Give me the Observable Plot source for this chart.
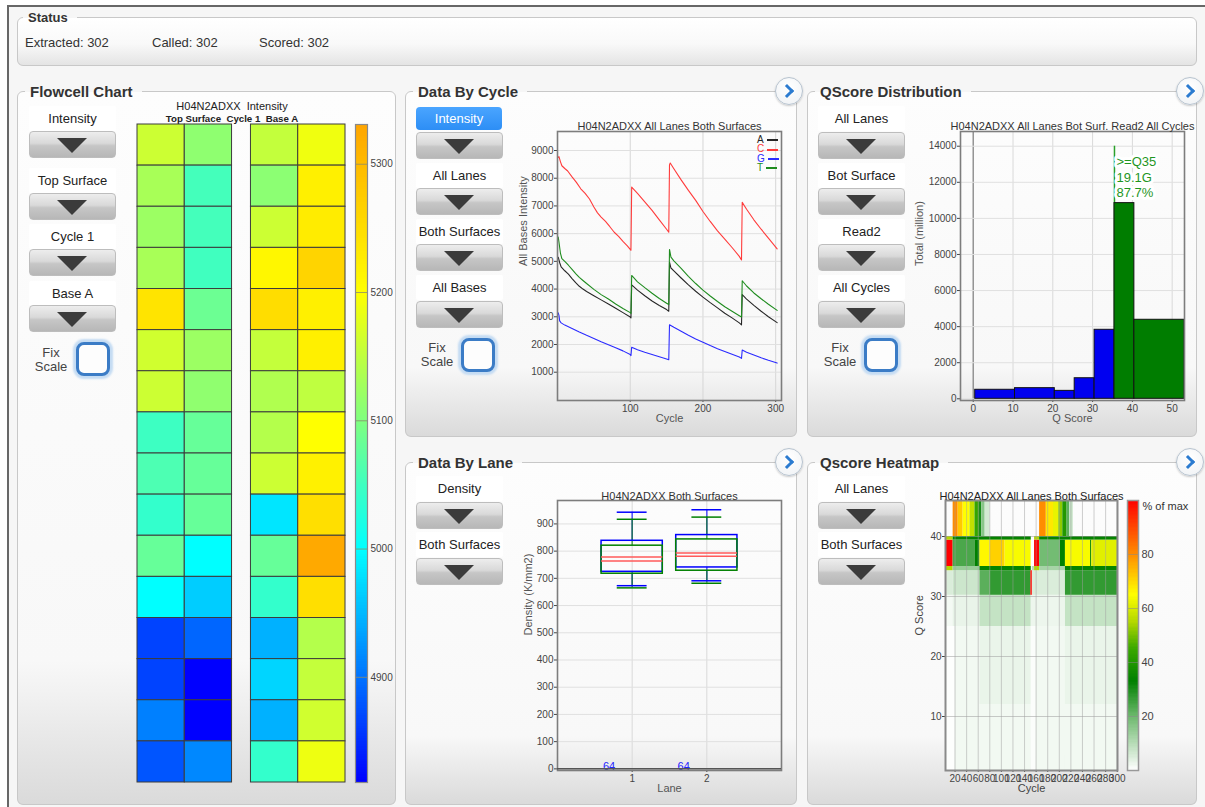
<!DOCTYPE html>
<html><head><meta charset="utf-8">
<script src="https://cdn.jsdelivr.net/npm/d3@7"></script>
<script src="https://cdn.jsdelivr.net/npm/@observablehq/plot@0.6"></script>
<style>
html,body{margin:0;padding:0;background:#fff;}
body{width:1205px;height:807px;overflow:hidden;position:relative;font-family:'Liberation Sans',Arial,Helvetica,sans-serif;color:#333;}
#frame{position:absolute;left:7px;top:5px;width:1220px;height:830px;border-left:2px solid #676767;border-top:2px solid #676767;background:#f6f6f6;}
fieldset.panel{position:absolute;margin:0;padding:0;border:1px solid #c8c8c8;border-radius:6px;box-sizing:border-box;
 background:linear-gradient(to bottom,#fdfdfd 0%,#f8f8f8 80%,#dadada 100%);}
fieldset.panel legend{margin-left:7px;padding:0 9px 0 5px;font-weight:bold;font-size:15px;line-height:17px;color:#333;}
fieldset.status{background:linear-gradient(to bottom,#ffffff 0%,#f9f9f9 55%,#e4e4e4 100%);}
fieldset.status legend{margin-left:5px;padding:0 9px 0 5px;font-size:13px;line-height:15px;}
.stxt{position:absolute;font-size:13px;line-height:16px;color:#333;white-space:nowrap;}
.dd{position:absolute;width:87px;height:27px;border-radius:4px;box-sizing:border-box;border:1px solid #bdbdbd;
 background:linear-gradient(to bottom,#ededed 0%,#d9d9d9 45%,#c6c6c6 55%,#b7b7b7 100%);}
.dd::after{content:"";position:absolute;left:27px;top:6px;border-left:15px solid transparent;border-right:15px solid transparent;border-top:15px solid #3b3b3b;}
.lbl{position:absolute;width:87px;height:25px;background:#fff;text-align:center;font-size:13px;line-height:25px;color:#222;white-space:nowrap;border-radius:2px;}
.sel{position:absolute;width:86px;height:23px;border-radius:4px;background:linear-gradient(to bottom,#4aa5ff,#2d8ef5);color:#fff;text-align:center;font-size:13px;line-height:23px;}
.fix{position:absolute;width:40px;text-align:center;font-size:13px;line-height:14px;color:#444;}
.chk{position:absolute;width:34px;height:34px;box-sizing:border-box;border:3px solid #3b7cc6;border-radius:8px;background:#fdfdfd;box-shadow:0 0 2px 3px #c5dcf3;}
.circ{position:absolute;width:28px;height:28px;box-sizing:border-box;border-radius:50%;border:1.5px solid #b7c3cf;background:radial-gradient(circle at 50% 35%,#ffffff,#eef1f4);box-shadow:0 1px 2px rgba(0,0,0,0.2);}
.circ::after{content:"";position:absolute;left:6px;top:8px;width:7px;height:7px;border-right:3px solid #2b7bd0;border-top:3px solid #2b7bd0;transform:rotate(45deg);}
.chart{position:absolute;}
.fctitle{position:absolute;width:220px;text-align:center;white-space:nowrap;color:#222;}
.leg{position:absolute;font-size:10px;line-height:10px;white-space:nowrap;}
.leg span.ln{display:inline-block;width:11px;height:2px;vertical-align:middle;margin-left:3px;}
</style>
</head>
<body>
<div id="frame"></div>
<script>
// ---------------- DATA ----------------
const statusItems = ["Extracted: 302", "Called: 302", "Scored: 302"];

// Flowcell chart: intensity per tile (16 tiles, top to bottom) for each lane/swath
const tileRows = [1,2,3,4,5,6,7,8,9,10,11,12,13,14,15,16];
const lane1Swath1 = [5160, 5132, 5122, 5132, 5240, 5163, 5160, 5048, 5060, 5040, 5080, 5000, 4866, 4866, 4909, 4879];
const lane1Swath2 = [5112, 5053, 5053, 5050, 5085, 5122, 5113, 5080, 5080, 5080, 5000, 4964, 4891, 4818, 4818, 4915];
const lane2Swath1 = [5153, 5110, 5160, 5212, 5250, 5154, 5138, 5141, 5160, 4982, 5080, 5040, 4944, 4970, 4944, 5040];
const lane2Swath2 = [5188, 5222, 5228, 5262, 5222, 5222, 5150, 5200, 5220, 5247, 5325, 5247, 5141, 5154, 5163, 5187];
const flowcellTicks = [4900, 5000, 5100, 5200, 5300];
const flowcellStops = [4818, 5000, 5200, 5331];
const flowcellColors = ["#0000ff", "#00ffff", "#ffff00", "#ffa500"];

// Data by cycle: intensity per base, [cycle, intensity]
const bases = ["A", "C", "G", "T"];
const baseColors = ["#262626", "#ff3b3b", "#2b2bff", "#1f8c1f"];
const cycleTicks = [100, 200, 300];
const intensityTicks = [1000, 2000, 3000, 4000, 5000, 6000, 7000, 8000, 9000];
const intensityA = [[1,5150],[3,4950],[5,4800],[10,4660],[15,4540],[20,4380],[25,4230],[30,4100],[35,4000],[40,3910],[50,3760],[60,3610],[70,3460],[80,3310],[90,3150],[100,2990],[101,2960],[102,4150],[110,3960],[120,3760],[130,3570],[140,3410],[150,3260],[153,3200],[154,4970],[156,4760],[160,4660],[170,4400],[180,4150],[190,3920],[200,3710],[210,3510],[220,3320],[230,3130],[240,2960],[250,2780],[253,2710],[254,3800],[260,3640],[270,3410],[280,3200],[290,3000],[302,2790]];
const intensityC = [[1,8750],[2,8780],[4,8600],[6,8450],[10,8350],[14,8260],[20,8050],[26,7850],[32,7620],[38,7450],[44,7250],[50,6960],[55,6750],[60,6600],[66,6440],[72,6250],[78,6050],[84,5900],[90,5720],[96,5560],[100,5430],[101,5400],[102,7680],[110,7450],[120,7150],[130,6840],[140,6500],[150,6160],[153,6050],[154,8480],[155,8550],[160,8340],[170,7940],[180,7560],[190,7200],[200,6800],[210,6440],[220,6100],[230,5800],[240,5500],[250,5180],[253,5050],[254,7130],[260,6880],[270,6500],[280,6160],[290,5840],[302,5450]];
const intensityG = [[1,3140],[2,3050],[3,2850],[5,2780],[10,2700],[20,2580],[30,2450],[40,2330],[50,2220],[60,2100],[70,1990],[80,1880],[90,1770],[100,1640],[101,1600],[102,1900],[110,1810],[120,1720],[130,1640],[140,1560],[150,1480],[153,1450],[154,2710],[160,2620],[170,2480],[180,2330],[190,2200],[200,2080],[210,1960],[220,1850],[230,1750],[240,1650],[250,1550],[253,1500],[254,1800],[260,1720],[270,1620],[280,1520],[290,1430],[302,1330]];
const intensityT = [[1,5880],[2,5700],[4,5300],[6,5100],[10,5000],[15,4860],[20,4710],[25,4560],[30,4420],[35,4310],[40,4200],[50,3990],[60,3800],[70,3640],[80,3460],[90,3300],[100,3150],[101,3120],[102,4490],[110,4260],[120,4050],[130,3850],[140,3660],[150,3490],[153,3440],[154,5430],[156,5150],[160,5020],[170,4750],[180,4460],[190,4200],[200,3960],[210,3750],[220,3550],[230,3360],[240,3200],[250,3040],[253,2990],[254,4300],[260,4110],[270,3860],[280,3650],[290,3450],[302,3230]];

// QScore distribution
const qBinLow  = [0.5, 10.5, 20.5, 25.5, 30.5, 35.5, 40.5];
const qBinHigh = [10.5, 20.5, 25.5, 30.5, 35.5, 40.5, 53.1];
const qTotals  = [500, 590, 440, 1140, 3825, 10845, 4380];
const q35Edge = 35.5;
const qAnnotation = [">=Q35", "19.1G", "87.7%"];
const qTicks = [0, 10, 20, 30, 40, 50];
const totalTicks = [0, 2000, 4000, 6000, 8000, 10000, 12000, 14000];

// Data by lane (density box plots, two surfaces)
const laneIds = [1, 2];
const laneTicks = [1, 2];
const densityTicks = [0, 100, 200, 300, 400, 500, 600, 700, 800, 900];
const blueLow = [673, 691], blueQ1 = [724, 740], blueMedian = [778, 793], blueQ3 = [838, 859], blueHigh = [943, 952];
const greenLow = [665, 682], greenQ1 = [717, 728], greenMedian = [764, 781], greenQ3 = [820, 843], greenHigh = [917, 925];
const tileCounts = [64, 64];

// Qscore heatmap: [cycleStart, cycleEnd, qStart, qEnd, % of max]
const heatCells = [
 [3.5,20,1,25,0.3],[20,63,1,25,1.8],[63,151.6,1,12,1.8],[63,151.6,12,25,2.8],[151.6,160,1,25,0.6],[160,210.6,1,25,1.8],[210.6,300.5,1,12,1.8],[210.6,300.5,12,25,2.8],
 [3.5,16.7,25,30.2,1.5],[16.7,63,25,30.2,3],[63,151.6,25,30.2,8],[151.6,210.6,25,30.2,2.5],[210.6,300.5,25,30.2,8],
 [3.5,5.5,30.2,34.3,100],[5.5,16.7,30.2,34.3,5],[16.7,63,30.2,34.3,7],[63,80.4,30.2,34.3,22],[80.4,151,30.2,34.3,27],[151,153.5,30.2,34.3,100],[153.5,210.6,30.2,34.3,5],[210.6,300.5,30.2,34.3,27],
 [3.5,16.7,34.3,35,55],[16.7,63,34.3,35,14],[63,151.6,34.3,35,34],[153.5,157.3,34.3,35,10],[157.3,166,34.3,35,55],[166,210.6,34.3,35,12],[210.6,300.5,34.3,35,34],
 [3.5,16.7,35,39.4,100],[16.7,54.4,35,39.4,24],[54.4,63,35,39.4,33],[63,80.4,35,39.4,66],[80.4,106.4,35,39.4,71],[106.4,151.6,35,39.4,64],[151.6,157.3,35,40,0],[157.3,166,35,39.4,100],[166,201.9,35,39.4,19],[201.9,210.6,35,39.4,33],[210.6,254,35,39.4,64],[254,256,35,39.4,36],[256,300.5,35,39.4,61],
 [3.5,16.7,39.4,40,55],[16.7,151.6,39.4,40,34],[157.3,166,39.4,40,55],[166,300.5,39.4,40,34],
 [16.7,25.4,40,46,80],[25.4,34,40,46,72],[34,45.7,40,46,65],[45.7,54.4,40,46,57],[54.4,62,40,46,44],[62,66,40,46,30],[66,72,40,46,16],[72,80.4,40,46,6],
 [166,177.6,40,46,80],[177.6,190,40,46,68],[190,199,40,46,62],[199,206,40,46,52],[206,213.5,40,46,40],[213.5,218,40,46,22],[218,224,40,46,8]
];
const heatXTicks = [20,40,60,80,100,120,140,160,180,200,220,240,260,280,300];
const heatYTicks = [10, 20, 30, 40];
const heatPctTicks = [20, 40, 60, 80];
const heatStops = [0, 20, 33, 45, 55, 65, 80, 100];
const heatColors = ["#ffffff", "#6cb86c", "#008000", "#3aa800", "#b4d800", "#ffff00", "#ff8c00", "#ff0000"];

// ---------------- LAYOUT HELPERS ----------------
const FONT = "'Liberation Sans', Arial, Helvetica, sans-serif";
const body = document.body;
function el(tag, cls, x, y, html) {
  const e = document.createElement(tag);
  if (cls) e.className = cls;
  e.style.left = x + "px"; e.style.top = y + "px";
  if (html !== undefined) e.innerHTML = html;
  body.appendChild(e); return e;
}
function panel(x, yLine, w, yBottom, title, cls) {
  const f = document.createElement("fieldset");
  f.className = "panel" + (cls ? " " + cls : "");
  const lh = cls ? 15 : 17;
  f.style.left = x + "px"; f.style.top = (yLine - lh / 2) + "px";
  f.style.width = w + "px"; f.style.height = (yBottom - yLine + lh / 2) + "px";
  const lg = document.createElement("legend"); lg.textContent = title; f.appendChild(lg);
  body.appendChild(f);
}
function label(x, yc, text) { el("div", "lbl", x, yc - 12.5, text); }
function dropdown(x, y) { el("div", "dd", x, y); }
function fixScale(xc, yFix, xBox, yBox) {
  el("div", "fix", xc - 20, yFix - 7, "Fix");
  el("div", "fix", xc - 20, yFix + 7, "Scale");
  el("div", "chk", xBox, yBox);
}
function circle(cx, cy) { el("div", "circ", cx - 14, cy - 14); }
function style(fs) { return `background:transparent;overflow:visible;max-width:none;font-family:${FONT};font-size:${fs || 10}px;color:#444;`; }
function mount(svg, x, y) { const d = el("div", "chart", x, y); d.appendChild(svg); }

// ---------------- PANELS ----------------
panel(17, 17, 1180, 66, "Status", "status");
const statusX = [25, 152, 259];
statusItems.forEach((t, i) => el("div", "stxt", statusX[i], 35, t));

panel(17, 91, 379, 805, "Flowcell Chart");
panel(405, 91, 392, 437, "Data By Cycle");
panel(807, 91, 390, 437, "QScore Distribution");
panel(405, 462, 392, 805, "Data By Lane");
panel(807, 462, 390, 805, "Qscore Heatmap");

// Flowcell controls
label(29, 118, "Intensity"); dropdown(29, 131);
label(29, 180, "Top Surface"); dropdown(29, 193);
label(29, 236.5, "Cycle 1"); dropdown(29, 249);
label(29, 293, "Base A"); dropdown(29, 305);
fixScale(51, 353, 76, 342);

// Data by cycle controls
el("div", "sel", 416, 106.5, "Intensity"); dropdown(416, 132);
label(416, 175, "All Lanes"); dropdown(416, 188);
label(416, 231, "Both Surfaces"); dropdown(416, 244);
label(416, 287, "All Bases"); dropdown(416, 300.5);
fixScale(437, 348, 461, 338);

// QScore controls
label(818, 118, "All Lanes"); dropdown(818, 132);
label(818, 175, "Bot Surface"); dropdown(818, 188);
label(818, 231, "Read2"); dropdown(818, 244);
label(818, 287, "All Cycles"); dropdown(818, 300.5);
fixScale(840, 348, 864, 338);

// Data by lane controls
label(416, 488, "Density"); dropdown(416, 502);
label(416, 544, "Both Surfaces"); dropdown(416, 558);

// Heatmap controls
label(818, 488, "All Lanes"); dropdown(818, 502);
label(818, 544, "Both Surfaces"); dropdown(818, 558);

// ---------------- FLOWCELL ----------------
const swaths = [lane1Swath1, lane1Swath2, lane2Swath1, lane2Swath2];
const flowcellCells = [];
swaths.forEach((arr, s) => arr.forEach((v, i) => flowcellCells.push({lane: s < 2 ? 1 : 2, swath: s % 2 + 1, tile: tileRows[i], value: v})));
const fcColor = {type: "linear", domain: flowcellStops, range: flowcellColors};

el("div", "fctitle", 122, 100, "H04N2ADXX&nbsp;&nbsp;Intensity").style.fontSize = "11px";
const t2 = el("div", "fctitle", 122, 112.5, "Top Surface&nbsp;&nbsp;Cycle 1&nbsp;&nbsp;Base A");
t2.style.fontSize = "9.7px"; t2.style.fontWeight = "bold";

mount(Plot.plot({
  width: 225, height: 692, marginLeft: 7, marginRight: 10, marginTop: 29, marginBottom: 5,
  style: style(10),
  x: {domain: [0, 4.4], axis: null},
  y: {domain: [0, 16], reverse: true, axis: null},
  color: fcColor,
  marks: [
    Plot.rect(flowcellCells, {
      x1: d => (d.lane - 1) * 2.4 + d.swath - 1, x2: d => (d.lane - 1) * 2.4 + d.swath,
      y1: d => d.tile - 1, y2: d => d.tile, fill: "value", stroke: "#3c3c3c", strokeWidth: 1
    })
  ]
}), 130, 95);

const fcStep = 2;
const fcRamp = d3.range(flowcellStops[0], flowcellStops[3], fcStep);
mount(Plot.plot({
  width: 59, height: 692, marginLeft: 7, marginRight: 40, marginTop: 29, marginBottom: 5,
  style: style(10),
  x: {domain: [0, 1], axis: null},
  y: {domain: [flowcellStops[0], flowcellStops[3]], ticks: flowcellTicks, axis: "right", tickSize: 0, tickPadding: 3, label: null, tickFormat: d => String(d)},
  color: fcColor,
  marks: [
    Plot.rect(fcRamp, {x1: 0, x2: 1, y1: d => d, y2: d => Math.min(d + fcStep * 2, flowcellStops[3]), fill: d => d + fcStep / 2, shapeRendering: "crispEdges"}),
    Plot.ruleY(flowcellTicks, {stroke: "#8c8c6c", strokeOpacity: 0.8}),
    Plot.frame({stroke: "#8a8a8a", strokeWidth: 1.2})
  ]
}), 348, 95);

// ---------------- DATA BY CYCLE ----------------
const seriesByBase = [intensityA, intensityC, intensityG, intensityT];
const cycleLong = [];
seriesByBase.forEach((s, i) => s.forEach(([c, v]) => cycleLong.push({base: bases[i], cycle: c, value: v})));

mount(Plot.plot({
  width: 301, height: 325, marginLeft: 57, marginTop: 26, marginRight: 20, marginBottom: 30,
  style: style(10),
  x: {domain: [0, 308], ticks: cycleTicks, tickSize: 2, tickPadding: 2, label: null, tickFormat: d => String(d)},
  y: {domain: [-21, 9686], ticks: intensityTicks, tickSize: 3, tickPadding: 1, label: null, tickFormat: d => String(d)},
  color: {domain: bases, range: baseColors},
  marks: [
    Plot.ruleX(cycleTicks, {stroke: "#d6d6d6"}),
    Plot.ruleY(intensityTicks, {stroke: "#e0e0e0"}),
    Plot.line(cycleLong, {x: "cycle", y: "value", z: "base", stroke: "base", strokeWidth: 1.1}),
    Plot.frame({stroke: "#7d7d7d", strokeWidth: 1.6}),
    Plot.text(["H04N2ADXX All Lanes Both Surfaces"], {text: d => d, frameAnchor: "top", dy: -9, fontSize: 11, fill: "#333"}),
    Plot.text(["Cycle"], {text: d => d, frameAnchor: "bottom", dy: 21, fontSize: 11, fill: "#555"}),
    Plot.text(["All Bases Intensity"], {text: d => d, frameAnchor: "left", dx: -34.5, rotate: -90, fontSize: 11, fill: "#555"})
  ]
}), 500, 105);

bases.forEach((b, i) => {
  el("div", "leg", 757, 135 + i * 9.3, `<span style="color:${baseColors[i]}">${b}</span><span class="ln" style="background:${baseColors[i]}"></span>`);
});

// ---------------- QSCORE DISTRIBUTION ----------------
const qBins = qBinLow.map((lo, i) => ({lo, hi: qBinHigh[i], total: qTotals[i], group: lo >= q35Edge ? ">=Q35" : "<Q35"}));
mount(Plot.plot({
  width: 299, height: 325, marginLeft: 60, marginTop: 26, marginRight: 15, marginBottom: 30,
  style: style(10),
  x: {domain: [-3.2, 53.1], ticks: qTicks, tickSize: 2, tickPadding: 2, label: null, tickFormat: d => String(d)},
  y: {domain: [-94, 14815], ticks: totalTicks, tickSize: 3, tickPadding: 1, label: null, tickFormat: d => String(d)},
  color: {domain: ["<Q35", ">=Q35"], range: ["#0000f0", "#007d00"]},
  marks: [
    Plot.ruleX(qTicks, {stroke: "#d9d9d9"}),
    Plot.ruleX([0], {stroke: "#8a8a8a", strokeWidth: 1.3}),
    Plot.ruleY(totalTicks, {stroke: "#e0e0e0"}),
    Plot.ruleX([q35Edge], {y1: 0, y2: totalTicks[totalTicks.length - 1], stroke: "#2aa02a", strokeWidth: 1.5}),
    Plot.rect(qBins, {x1: "lo", x2: "hi", y1: 0, y2: "total", fill: "group", stroke: "#111", strokeWidth: 1}),
    Plot.text([qAnnotation.join("\n")], {text: d => d, x: q35Edge, y: totalTicks[totalTicks.length - 1], dx: 2, dy: 9,
      textAnchor: "start", lineAnchor: "top", lineHeight: 1.19, fontSize: 13, fill: "#1f961f", stroke: "white", strokeWidth: 6}),
    Plot.frame({stroke: "#7d7d7d", strokeWidth: 1.6}),
    Plot.text(["H04N2ADXX All Lanes Bot Surf. Read2 All Cycles"], {text: d => d, frameAnchor: "top", dy: -9, fontSize: 11, fill: "#333"}),
    Plot.text(["Q Score"], {text: d => d, frameAnchor: "bottom", dy: 21, fontSize: 11, fill: "#555"}),
    Plot.text(["Total (million)"], {text: d => d, frameAnchor: "left", dx: -41, rotate: -90, fontSize: 11, fill: "#555"})
  ]
}), 900, 105);

// ---------------- DATA BY LANE ----------------
const boxes = [];
laneIds.forEach((lane, i) => {
  boxes.push({lane, surface: "blue", lo: blueLow[i], q1: blueQ1[i], med: blueMedian[i], q3: blueQ3[i], hi: blueHigh[i]});
  boxes.push({lane, surface: "green", lo: greenLow[i], q1: greenQ1[i], med: greenMedian[i], q3: greenQ3[i], hi: greenHigh[i]});
});
const laneCounts = laneIds.map((lane, i) => ({lane, count: tileCounts[i]}));
mount(Plot.plot({
  width: 301, height: 325, marginLeft: 57, marginTop: 25, marginRight: 20, marginBottom: 30,
  style: style(10),
  x: {domain: [0, 3], ticks: laneTicks, tickSize: 2, tickPadding: 2, label: null, tickFormat: d => String(d)},
  y: {domain: [-6, 986], ticks: densityTicks, tickSize: 3, tickPadding: 1, label: null, tickFormat: d => String(d)},
  color: {domain: ["blue", "green"], range: ["#3a3aff", "#2f8a3a"]},
  marks: [
    Plot.ruleX(laneTicks, {stroke: "#d9d9d9"}),
    Plot.ruleY(densityTicks, {stroke: "#e0e0e0"}),
    Plot.ruleX(boxes, {x: "lane", y1: "lo", y2: "q1", stroke: "surface", strokeWidth: 1.5, strokeOpacity: 0.65}),
    Plot.ruleX(boxes, {x: "lane", y1: "q3", y2: "hi", stroke: "surface", strokeWidth: 1.5, strokeOpacity: 0.65}),
    Plot.ruleY(boxes, {y: "lo", x1: d => d.lane - 0.2, x2: d => d.lane + 0.2, stroke: "surface", strokeWidth: 1.5}),
    Plot.ruleY(boxes, {y: "hi", x1: d => d.lane - 0.2, x2: d => d.lane + 0.2, stroke: "surface", strokeWidth: 1.5}),
    Plot.rect(boxes, {x1: d => d.lane - 0.41, x2: d => d.lane + 0.41, y1: "q1", y2: "q3", fill: "none", stroke: "surface", strokeWidth: 1.5}),
    Plot.ruleY(boxes, {y: "med", x1: d => d.lane - 0.41, x2: d => d.lane + 0.41, stroke: "#ff5a5a", strokeWidth: 1.5}),
    Plot.text(laneCounts, {x: d => d.lane - 0.31, y: 0, text: d => String(d.count), fill: "#2424ff", fontSize: 11, lineAnchor: "bottom", dy: 1}),
    Plot.frame({stroke: "#7d7d7d", strokeWidth: 1.6}),
    Plot.ruleY([0], {stroke: "#555", strokeWidth: 1.5}),
    Plot.text(["H04N2ADXX Both Surfaces"], {text: d => d, frameAnchor: "top", dy: -8, fontSize: 11, fill: "#333"}),
    Plot.text(["Lane"], {text: d => d, frameAnchor: "bottom", dy: 21.5, fontSize: 11, fill: "#555"}),
    Plot.text(["Density (K/mm2)"], {text: d => d, frameAnchor: "left", dx: -29, rotate: -90, fontSize: 11, fill: "#555"})
  ]
}), 500, 475);

// ---------------- QSCORE HEATMAP ----------------
const heatColor = {type: "linear", domain: heatStops, range: heatColors};
const heatRects = heatCells.map(([c1, c2, q1, q2, v]) => ({c1, c2, q1, q2, v}));
mount(Plot.plot({
  width: 227, height: 325, marginLeft: 45, marginTop: 25, marginRight: 10, marginBottom: 30,
  style: style(10),
  x: {domain: [3.5, 300.5], ticks: heatXTicks, tickSize: 2, tickPadding: 2, label: null, tickFormat: d => String(d)},
  y: {domain: [1, 46], ticks: heatYTicks, tickSize: 3, tickPadding: 1, label: null, tickFormat: d => String(d)},
  color: heatColor,
  marks: [
    Plot.rect(heatRects, {x1: "c1", x2: "c2", y1: "q1", y2: "q2", fill: "v"}),
    Plot.ruleX(heatXTicks, {stroke: "#a0a0a0", strokeOpacity: 0.5}),
    Plot.ruleY(heatYTicks, {stroke: "#a0a0a0", strokeOpacity: 0.55}),
    Plot.frame({stroke: "#8a8a8a", strokeWidth: 2}),
    Plot.text(["H04N2ADXX All Lanes Both Surfaces"], {text: d => d, frameAnchor: "top", dy: -8, fontSize: 11, fill: "#222"}),
    Plot.text(["Cycle"], {text: d => d, frameAnchor: "bottom", dy: 21.5, fontSize: 11, fill: "#444"}),
    Plot.text(["Q Score"], {text: d => d, frameAnchor: "left", dx: -26, rotate: -90, fontSize: 11, fill: "#444"})
  ]
}), 900, 475);

const heatStep = 0.5;
const heatRamp = d3.range(0, 100, heatStep);
mount(Plot.plot({
  width: 78, height: 325, marginLeft: 7, marginRight: 60, marginTop: 25, marginBottom: 30,
  style: style(11),
  x: {domain: [0, 1], axis: null},
  y: {domain: [0, 100], ticks: heatPctTicks, axis: "right", tickSize: 0, tickPadding: 3, label: null, tickFormat: d => String(d)},
  color: heatColor,
  marks: [
    Plot.rect(heatRamp, {x1: 0, x2: 1, y1: d => d, y2: d => Math.min(d + heatStep * 2, 100), fill: d => d + heatStep / 2, shapeRendering: "crispEdges"}),
    Plot.ruleY(heatPctTicks, {stroke: "#888", strokeOpacity: 0.5}),
    Plot.frame({stroke: "#999", strokeWidth: 1.5}),
    Plot.text(["% of max"], {text: d => d, frameAnchor: "top-right", dx: 4, dy: 2, textAnchor: "start", fontSize: 11, fill: "#333"})
  ]
}), 1120, 475);

// circular navigation buttons
circle(789, 91); circle(1190, 91); circle(789, 462); circle(1190, 462);
</script>
</body></html>
